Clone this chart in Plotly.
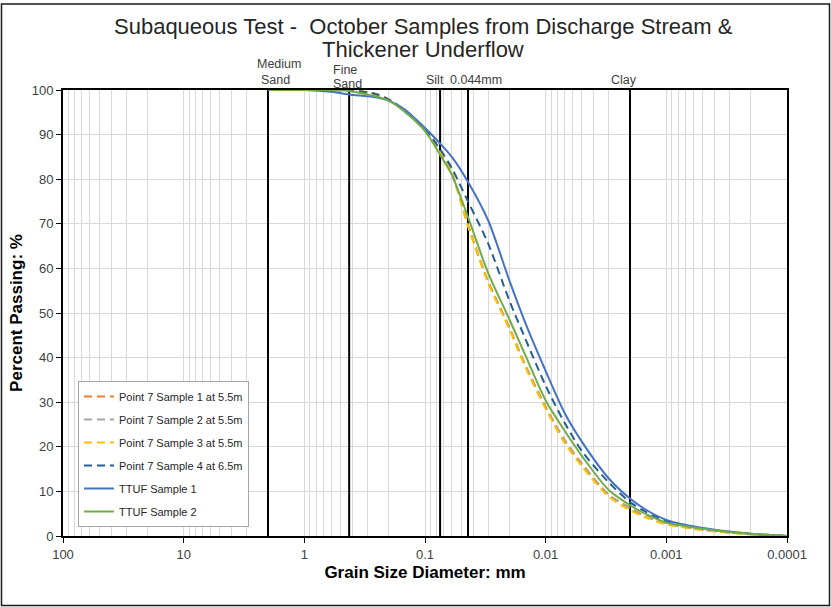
import plotly.graph_objects as go

# Sieve / hydrometer diameters (mm)
diam = [2, 1, 0.6, 0.425, 0.3, 0.25, 0.2, 0.15, 0.1, 0.075, 0.06, 0.044, 0.03,
        0.02, 0.015, 0.01, 0.007, 0.005, 0.003, 0.002, 0.0015, 0.001, 0.0007,
        0.0005, 0.0003, 0.0002, 0.0001]

# Percent passing for each sample
p7_s1 = [100, 100, 100, 99.9, 99.5, 99.0, 97.9, 95.5, 91.0, 86.3, 81.5, 69.8, 57.2,
         46.8, 38.8, 29.0, 21.6, 16.2, 9.3, 6.3, 4.5, 2.8, 2.0, 1.4, 0.8, 0.4, 0]
p7_s2 = [100, 100, 100, 99.9, 99.4, 98.9, 97.8, 95.4, 90.9, 86.1, 81.3, 69.6, 57.0,
         46.6, 38.6, 28.8, 21.4, 16.0, 9.2, 6.2, 4.4, 2.8, 2.0, 1.4, 0.8, 0.4, 0]
p7_s3 = [100, 100, 100, 99.9, 99.5, 99.0, 97.9, 95.6, 91.1, 86.3, 81.4, 69.5, 56.8,
         46.4, 38.3, 28.5, 21.0, 15.6, 8.8, 5.8, 4.2, 2.6, 1.9, 1.3, 0.7, 0.4, 0]
p7_s4 = [100, 100, 100, 99.9, 99.5, 99.0, 97.9, 95.6, 91.3, 86.7, 82.5, 75.0, 65.6,
         52.8, 44.7, 33.7, 25.5, 19.0, 12.0, 7.6, 5.5, 3.3, 2.4, 1.7, 0.9, 0.5, 0]
ttuf_s1 = [100, 100, 99.6, 99.0, 98.6, 98.3, 97.6, 95.8, 91.5, 88.0, 85.0, 79.4, 70.8,
           57.3, 48.3, 37.0, 27.7, 21.1, 12.9, 8.4, 6.0, 3.6, 2.5, 1.8, 1.0, 0.5, 0]
ttuf_s2 = [100, 100, 100, 99.8, 99.0, 98.5, 97.6, 95.3, 90.8, 85.5, 81.0, 71.5, 59.0,
           48.6, 41.0, 30.4, 23.7, 17.9, 10.3, 6.9, 5.0, 3.0, 2.2, 1.6, 0.9, 0.5, 0]

series_names = ["Point 7 Sample 1 at 5.5m", "Point 7 Sample 2 at 5.5m",
                "Point 7 Sample 3 at 5.5m", "Point 7 Sample 4 at 6.5m",
                "TTUF Sample 1", "TTUF Sample 2"]
series_vals = [p7_s1, p7_s2, p7_s3, p7_s4, ttuf_s1, ttuf_s2]
series_colors = ["#ED7D31", "#A5A5A5", "#FFC000", "#255E91", "#4472C4", "#70AD47"]
series_dash = ["8px,5px", "8px,5px", "8px,5px", "8px,5px", "solid", "solid"]

# Soil classification boundaries (mm)
bound_d = [2.0, 0.425, 0.075, 0.044, 0.002]

# Figure geometry (pixels)
W, H = 831, 607
L, R, T, B = 63, 787, 90, 536


def fx(px):
    return (px - L) / (R - L)


def fy(py):
    return (B - py) / (B - T)


fig = go.Figure()

for d in bound_d:
    fig.add_trace(go.Scatter(x=[d, d], y=[0, 100], mode="lines",
                             line=dict(color="black", width=2),
                             showlegend=False, hoverinfo="skip"))

for i, (name, vals, col, dash) in enumerate(zip(series_names, series_vals,
                                                series_colors, series_dash)):
    fig.add_trace(go.Scatter(x=diam, y=vals, mode="lines", name=name,
                             legendgroup=f"g{i}",
                             line=dict(color=col, width=2, dash=dash,
                                       shape="spline", smoothing=0.8)))

grid = "#D9D9D9"
fig.update_xaxes(type="log", range=[2, -4], dtick=1,
                 tickvals=[100, 10, 1, 0.1, 0.01, 0.001, 0.0001],
                 ticktext=["100", "10", "1", "0.1", "0.01", "0.001", "0.0001"],
                 showgrid=True, gridcolor=grid, gridwidth=1,
                 minor=dict(dtick="D1", showgrid=True, gridcolor=grid, gridwidth=1),
                 showline=True, linecolor="black", linewidth=2, mirror=True,
                 ticks="outside", ticklen=5, tickcolor="black",
                 tickfont=dict(family="Liberation Sans, Arial", size=13, color="#404040"),
                 zeroline=False,
                 title=dict(text="<b>Grain Size Diameter: mm</b>", standoff=6,
                            font=dict(family="Liberation Sans, Arial", size=17, color="black")))
fig.update_yaxes(range=[0, 100], dtick=10,
                 showgrid=True, gridcolor=grid, gridwidth=1,
                 showline=True, linecolor="black", linewidth=2, mirror=True,
                 ticks="outside", ticklen=5, tickcolor="black",
                 tickfont=dict(family="Liberation Sans, Arial", size=13, color="#404040"),
                 zeroline=False,
                 title=dict(text="<b>Percent Passing: %</b>", standoff=5,
                            font=dict(family="Liberation Sans, Arial", size=17, color="black")))

lab_font = dict(family="Liberation Sans, Arial", size=12.5, color="#404040")
labels = [("Medium", 279, 64), ("Sand", 275, 80), ("Fine", 345, 70), ("Sand", 347, 84),
          ("Silt", 435, 80), ("0.044mm", 476, 80), ("Clay", 624, 80)]
annotations = [dict(text=t, x=fx(x), y=fy(y), xref="paper", yref="paper",
                    xanchor="center", yanchor="middle", showarrow=False, font=lab_font)
               for t, x, y in labels]

title_font = dict(family="Liberation Sans, Arial", size=22, color="#262626")
annotations += [
    dict(text="Subaqueous Test -  October Samples from Discharge Stream &",
         x=fx(423), y=fy(27), xref="paper", yref="paper", xanchor="center",
         yanchor="middle", showarrow=False, font=title_font),
    dict(text="Thickener Underflow", x=fx(423), y=fy(49), xref="paper", yref="paper",
         xanchor="center", yanchor="middle", showarrow=False, font=title_font),
]

fig.update_layout(
    width=W, height=H,
    margin=dict(l=L, r=W - R, t=T, b=H - B),
    paper_bgcolor="white", plot_bgcolor="white",
    annotations=annotations,
    shapes=[dict(type="rect", xref="paper", yref="paper",
                 x0=fx(1.5), x1=fx(829.5), y0=fy(605.5), y1=fy(4),
                 line=dict(color="#1a1a1a", width=1.5), fillcolor="rgba(0,0,0,0)",
                 layer="below")],
    legend=dict(x=fx(78), y=fy(381), xanchor="left", yanchor="top",
                bgcolor="white", bordercolor="#A6A6A6", borderwidth=1,
                font=dict(family="Liberation Sans, Arial", size=11, color="#262626"),
                tracegroupgap=4, traceorder="grouped"),
)

fig.write_html("out.html")
